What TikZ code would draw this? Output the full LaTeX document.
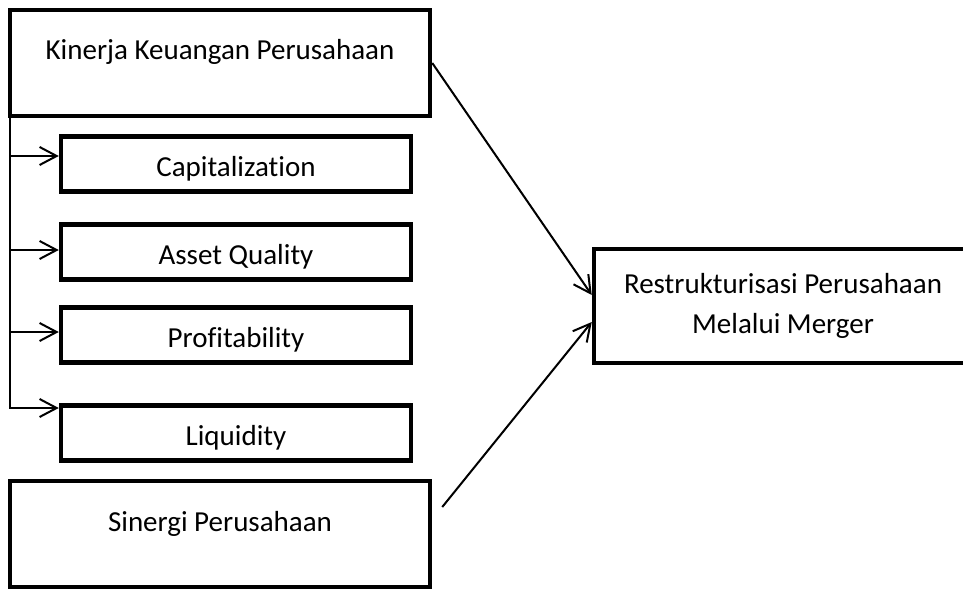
\documentclass[tikz,border=0pt]{standalone}
\usepackage{fontspec}
\setmainfont{Carlito}[Ligatures={NoCommon}]
\usetikzlibrary{arrows.meta}
\newcommand{\widthmain}{420pt}
\newcommand{\widthsub}{350pt}
\newcommand{\widthtarget}{378pt}
\tikzset{
    common/.style={draw, rectangle, line width=4.5pt, inner xsep=0pt, inner ysep=0pt, font=\fontsize{29}{40}\selectfont},
    mainbox/.style={common, minimum width=\widthmain, text height=50pt, text depth=56pt},
    subbox/.style={common, minimum width=\widthsub, text height=40pt, text depth=15pt},
    targetbox/.style={common, minimum width=\widthtarget, minimum height=114pt, align=center},
    link/.style={line width=2pt, -{Straight Barb[length=17pt, width=18pt]}}
}

\begin{document}
\begin{tikzpicture}[x=1pt, y=-1pt]
    \useasboundingbox (0,0) rectangle (963,591);
    \clip (0,0) rectangle (963,591);
    \path
        node[mainbox] (kinerja) at (220,63) {Kinerja Keuangan Perusahaan}
        node[subbox] (capital) at (236,164) {Capitalization}
        node[subbox] (asset) at (236,252) {Asset Quality}
        node[subbox] (profit) at (236,335) {Profitability}
        node[subbox] (liquid) at (236,433) {Liquidity}
        node[mainbox] (sinergi) at (220,534) {Sinergi Perusahaan}
        node[targetbox] (merger) at (783,306) {Restrukturisasi Perusahaan\\Melalui Merger};

    % taps on the trunk
    \coordinate (t1) at (10,156);
    \coordinate (t2) at (10,250);
    \coordinate (t3) at (10,332);
    \coordinate (t4) at (10,408);

    \draw[link] (kinerja.south -| t4) -- (t4) -- (liquid.west |- t4);
    \foreach \tap/\sub in {t1/capital, t2/asset, t3/profit}
        \draw[link] (\tap) -- (\sub.west |- \tap);

    \draw[link] (kinerja.east) -- ([yshift=11pt]merger.west);
    \draw[link] ([xshift=10pt, yshift=27pt]sinergi.east) -- ([yshift=-16pt]merger.west);
\end{tikzpicture}
\end{document}
